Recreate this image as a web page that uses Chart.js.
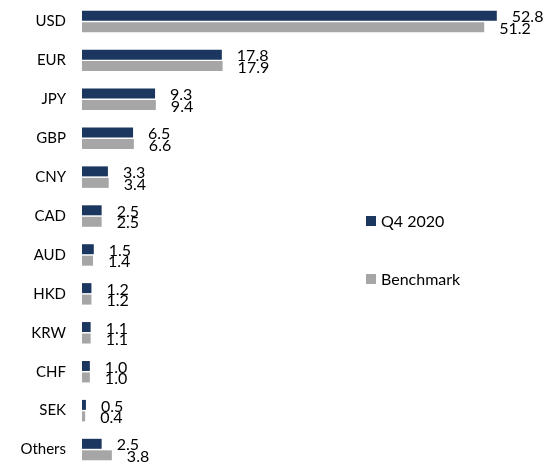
<!DOCTYPE html>
<html>
<head>
<meta charset="utf-8">
<script src="https://cdn.jsdelivr.net/npm/chart.js@4"></script>
<style>
  html, body { margin: 0; padding: 0; background: #fff; }
</style>
</head>
<body>
<canvas id="currencyChart" width="558" height="469"></canvas>
<script>
// Currency allocation (%) - Q4 2020 vs Benchmark
const currencies = ['USD', 'EUR', 'JPY', 'GBP', 'CNY', 'CAD', 'AUD', 'HKD', 'KRW', 'CHF', 'SEK', 'Others'];
const q4Values = [52.8, 17.8, 9.3, 6.5, 3.3, 2.5, 1.5, 1.2, 1.1, 1.0, 0.5, 2.5];
const benchmarkValues = [51.2, 17.9, 9.4, 6.6, 3.4, 2.5, 1.4, 1.2, 1.1, 1.0, 0.4, 3.8];
const seriesNames = ['Q4 2020', 'Benchmark'];

const navy = '#1b365f';
const grey = '#a6a6a6';
const fontFamily = 'Lato, "Open Sans", sans-serif';

// values written just right of each bar
const barLabels = {
    id: 'barLabels',
    afterDatasetsDraw(chart) {
        const ctx = chart.ctx;
        ctx.save();
        ctx.font = '16px ' + fontFamily;
        ctx.fillStyle = '#000';
        ctx.textAlign = 'left';
        ctx.textBaseline = 'middle';
        chart.data.datasets.forEach((ds, i) => {
            chart.getDatasetMeta(i).data.forEach((bar, j) => {
                ctx.fillText(ds.data[j].toFixed(1), bar.x + 15, bar.y + 1.5);
            });
        });
        ctx.restore();
    }
};

// legend sitting inside the plot on the right
const sideLegend = {
    id: 'sideLegend',
    afterDraw(chart) {
        const ctx = chart.ctx;
        ctx.save();
        ctx.font = '16px ' + fontFamily;
        ctx.textBaseline = 'middle';
        ctx.textAlign = 'left';
        const ys = [221, 279];
        chart.data.datasets.forEach((ds, i) => {
            ctx.fillStyle = ds.backgroundColor;
            ctx.fillRect(366, ys[i] - 5, 10, 10);
            ctx.fillStyle = '#000';
            ctx.fillText(ds.label, 381, ys[i] + 1);
        });
        ctx.restore();
    }
};

const ctx = document.getElementById('currencyChart').getContext('2d');
const currencyChart = new Chart(ctx, {
    type: 'bar',
    data: {
        labels: currencies,
        datasets: [{
            label: seriesNames[0],
            data: q4Values,
            backgroundColor: navy,
            categoryPercentage: 0.59,
            barPercentage: 0.87
        }, {
            label: seriesNames[1],
            data: benchmarkValues,
            backgroundColor: grey,
            categoryPercentage: 0.59,
            barPercentage: 0.87
        }]
    },
    options: {
        indexAxis: 'y',
        responsive: false,
        animation: false,
        layout: {
            padding: { top: 2, right: 18, bottom: 0, left: 0 }
        },
        plugins: {
            legend: { display: false },
            tooltip: { enabled: false }
        },
        scales: {
            x: {
                display: false,
                min: 0,
                max: 58.3
            },
            y: {
                grid: { display: false, drawTicks: false },
                border: { display: false },
                ticks: {
                    color: '#000',
                    padding: 16,
                    font: { family: fontFamily, size: 15 }
                },
                afterFit(scale) {
                    scale.width = 82;
                    scale.paddingTop = 0;
                    scale.paddingBottom = 0;
                }
            }
        }
    },
    plugins: [barLabels, sideLegend]
});
</script>
</body>
</html>
